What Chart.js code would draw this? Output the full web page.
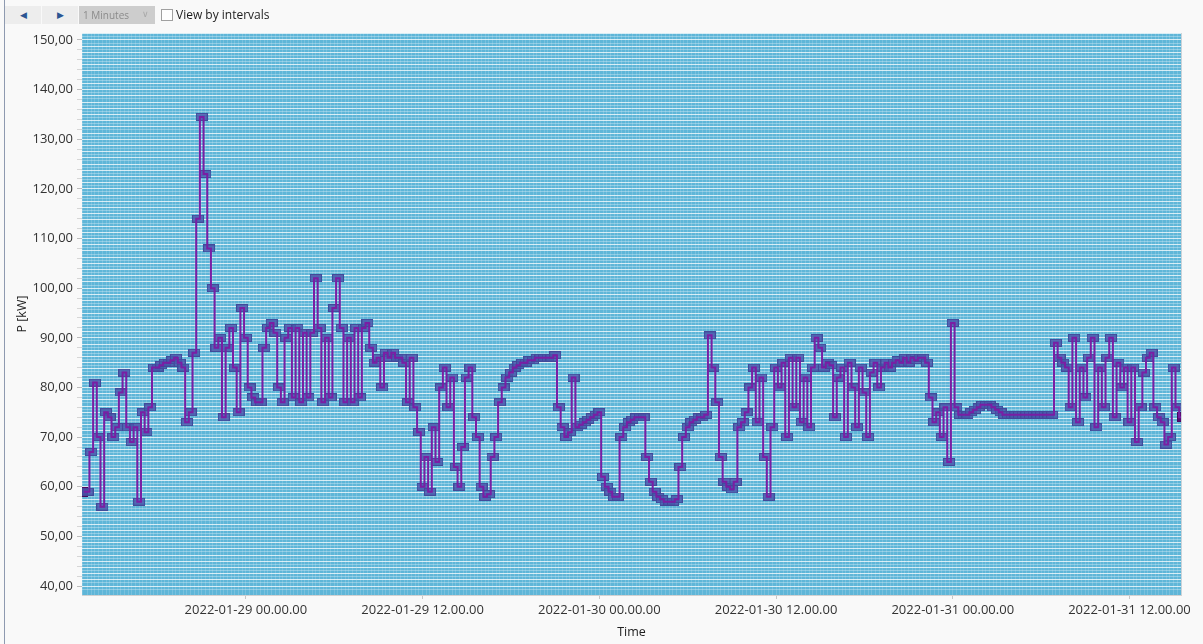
<!DOCTYPE html>
<html lang="en">
<head>
  <meta charset="UTF-8">
  <title>P [kW] over time</title>
  <script src="https://cdn.jsdelivr.net/npm/chart.js"></script>
  <style>
    body { margin: 0; background: #f9f9f9; font-family: "Open Sans", sans-serif; }
    #wrap { position: relative; width: 1203px; height: 644px; overflow: hidden; background: #f9f9f9; }
    #chart { position: absolute; left: 0; top: 0; }
    .edge { position: absolute; left: 4px; top: 0; width: 1px; height: 644px; background: #8e9ab0; }
    .nav { position: absolute; top: 6px; height: 18px; width: 36px; background: #ededed; color: #2b5592;
           font-size: 9px; line-height: 18px; text-align: center; }
    .combo { position: absolute; left: 79px; top: 6px; width: 76px; height: 18px; background: #cdcdcd;
             color: #8b8b8b; font-size: 10px; line-height: 18px; }
    .combo span { position: absolute; left: 4px; }
    .combo i { position: absolute; right: 6px; top: -1px; font-style: normal; color: #a8a8a8; font-size: 9px; }
    .check { position: absolute; left: 161px; top: 9px; width: 10px; height: 10px; background: #fff; border: 1px solid #a0a0a0; }
    .lbl { position: absolute; left: 176px; top: 6px; font-size: 12px; line-height: 18px; color: #1c1c1c; }
  </style>
</head>
<body>
<div id="wrap">
  <canvas id="chart" width="1203" height="644"></canvas>
  <div class="edge"></div>
  <div class="nav" style="left:5px">&#9664;</div>
  <div class="nav" style="left:42px">&#9654;</div>
  <div class="combo"><span>1 Minutes</span><i>&#8744;</i></div>
  <div class="check"></div>
  <div class="lbl">View by intervals</div>
</div>
<script>
  // time axis is in hours from 2022-01-29 00.00.00
  const axisZero = Date.UTC(2022, 0, 29, 0, 0, 0);
  const seriesStart = Date.UTC(2022, 0, 28, 13, 0, 0);
  const sampleMinutes = 15;
  const xMin = -11.13, xMax = 63.5;
  const yMin = 38.2, yMax = 151.4;
  const xTickHours = [0, 12, 24, 36, 48, 60];
  const yFirstTick = 40, yLastTick = 150, yMinorStep = 2, yLabelStep = 10;

  // P [kW] readings, one every 15 minutes, split by day
  const day28 = [59, 59, 67, 81, 70, 56, 75, 74, 70, 72,
    79, 83, 72, 69, 72, 57, 75, 71, 76, 84,
    84, 84.5, 85, 85, 85.5, 86, 85, 84, 73, 75,
    87, 114, 134.5, 123, 108, 100, 88, 90, 74, 88,
    92, 84, 75, 96];
  const day29 = [90, 80, 78, 77, 77, 88, 92, 93, 91, 80,
    77, 90, 92, 78, 92, 77, 91, 78, 91, 102,
    92, 77, 90, 78, 96, 102, 92, 77, 90, 77,
    92, 78, 92, 93, 88, 85, 86, 80, 87, 86,
    87, 86, 86, 85, 77, 86, 76, 71, 60, 66,
    59, 72, 65, 80, 84, 76, 82, 64, 60, 68,
    82, 84, 74, 70, 60, 58, 58.5, 66, 70, 77,
    80, 82, 83, 84, 84.5, 85, 85, 85.5, 85.5, 86,
    86, 86, 86, 86, 86.5, 76, 72, 70, 71, 82,
    72, 72.5, 73, 73.5, 74, 74.5];
  const day30 = [75, 62, 60, 59, 58, 58, 70, 72, 73, 73.5,
    74, 74, 74, 66, 61, 59, 58, 57.5, 57, 57,
    57, 57.5, 64, 70, 72, 73, 73.5, 74, 74, 74.5,
    90.5, 84, 77, 66, 61, 60, 59.5, 61, 72, 73,
    75, 80, 84, 73, 82, 66, 58, 72, 84, 80,
    85, 70, 86, 76, 86, 73, 82, 72, 84, 90,
    88, 84, 85, 84.5, 74, 82, 84, 70, 85, 80,
    72, 84, 79, 70, 83, 85, 80, 84, 85, 84,
    85, 85.5, 85, 86, 85, 86, 85.5, 86, 86, 85,
    78, 73, 75, 70, 76, 65];
  const day31 = [93, 76, 74.5, 74.5, 74.5, 75, 75.5, 76, 76.5, 76.5,
    76.5, 76, 75.5, 75, 74.5, 74.5, 74.5, 74.5, 74.5, 74.5,
    74.5, 74.5, 74.5, 74.5, 74.5, 74.5, 74.5, 74.5, 89, 86,
    85, 84, 76, 90, 73, 84, 78, 86, 90, 72,
    84, 76, 86, 90, 74, 85, 80, 84, 73, 84,
    69, 76, 83, 86, 87, 76, 74, 73, 68.5, 70,
    84, 76, 74];

  const power = [...day28, ...day29, ...day30, ...day31];
  const startHour = (seriesStart - axisZero) / 3600000;
  const points = power.map((v, i) => ({ x: startHour + i * sampleMinutes / 60, y: v }));

  function pad(n) { return String(n).padStart(2, '0'); }
  function fmtTime(h) {
    const d = new Date(axisZero + h * 3600000);
    return d.getUTCFullYear() + '-' + pad(d.getUTCMonth() + 1) + '-' + pad(d.getUTCDate()) + ' ' +
      pad(d.getUTCHours()) + '.' + pad(d.getUTCMinutes()) + '.' + pad(d.getUTCSeconds());
  }

  function makeMark(w, h, fill, line) {
    const c = document.createElement('canvas');
    c.width = w; c.height = h;
    const g = c.getContext('2d');
    g.fillStyle = fill; g.fillRect(0, 0, w, h);
    g.strokeStyle = line; g.lineWidth = 1; g.strokeRect(0.5, 0.5, w - 1, h - 1);
    return c;
  }
  const mark = makeMark(12, 8, 'rgba(72,88,172,0.85)', 'rgba(64,72,152,0.9)');
  const endMark = makeMark(8, 10, '#5c0b72', '#4a075c');

  const plotBg = {
    id: 'plotBg',
    beforeDraw(chart) {
      const { ctx, chartArea: a } = chart;
      ctx.save();
      ctx.fillStyle = '#5fb6d8';
      ctx.fillRect(a.left, a.top, a.right - a.left, a.bottom - a.top);
      ctx.restore();
    },
    afterDraw(chart) {
      const { ctx, chartArea: a } = chart;
      ctx.save();
      ctx.strokeStyle = '#cdd3d8';
      ctx.beginPath();
      ctx.moveTo(a.right + 0.5, a.top); ctx.lineTo(a.right + 0.5, a.bottom);
      ctx.stroke();
      ctx.restore();
    }
  };

  Chart.defaults.font.family = '"Open Sans", sans-serif';
  const tickFont = { size: 13 };

  new Chart(document.getElementById('chart'), {
    type: 'line',
    data: {
      datasets: [
        { data: points, borderColor: '#7a1ea4', borderWidth: 2, pointRadius: 0, stepped: 'middle', order: 0 },
        { data: points, showLine: false, pointRadius: 5, order: 1,
          pointStyle: ctx => (ctx.dataIndex === 0 || ctx.dataIndex === points.length - 1) ? endMark : mark }
      ]
    },
    options: {
      responsive: false,
      animation: false,
      devicePixelRatio: 1,
      layout: { padding: { top: 33, right: 22, left: 0, bottom: 0 } },
      plugins: { legend: { display: false }, tooltip: { enabled: false } },
      scales: {
        x: {
          type: 'linear', min: xMin, max: xMax, position: 'bottom',
          afterFit: s => { s.height = 49; },
          afterBuildTicks: s => { s.ticks = xTickHours.map(v => ({ value: v })); },
          ticks: { autoSkip: false, maxRotation: 0, padding: 3, color: '#333', font: tickFont, callback: v => fmtTime(v) },
          grid: { drawOnChartArea: false, tickLength: 4, color: '#c6c6c6' },
          border: { color: '#d2d2d2' },
          title: { display: true, text: 'Time', color: '#222', font: { size: 12.5 }, padding: { top: 0, bottom: 4 } }
        },
        xBg: {
          type: 'linear', min: xMin, max: xMax, position: 'bottom',
          afterFit: s => { s.height = 0; },
          ticks: { display: false, stepSize: 0.25 },
          grid: { drawTicks: false, color: 'rgba(255,255,255,0.16)' },
          border: { display: false }
        },
        y: {
          type: 'linear', min: yMin, max: yMax, position: 'left',
          afterFit: s => { s.width = 82; },
          afterBuildTicks: s => {
            const t = [];
            for (let v = yFirstTick; v <= yLastTick; v += yMinorStep) t.push({ value: v });
            s.ticks = t;
          },
          ticks: { autoSkip: false, padding: 4, color: '#333', font: tickFont,
            callback: v => (v % yLabelStep === 0 ? v.toFixed(2).replace('.', ',') : '') },
          grid: { drawOnChartArea: false, tickLength: 5,
            color: ctx => (ctx.tick && ctx.tick.value % yLabelStep === 0) ? '#bdbdbd' : '#d6d6d6' },
          border: { display: false },
          title: { display: true, text: 'P [kW]', color: '#222', font: { size: 12.5 }, padding: { top: 15, bottom: 0 } }
        },
        yBg: {
          type: 'linear', min: yMin, max: yMax, position: 'left',
          afterFit: s => { s.width = 0; },
          ticks: { display: false, stepSize: 0.625 },
          grid: { drawTicks: false, color: ctx => ctx.index % 2 === 0 ? 'rgba(255,255,255,0.75)' : 'rgba(255,255,255,0.3)' },
          border: { display: false }
        }
      }
    },
    plugins: [plotBg]
  });
</script>
</body>
</html>
